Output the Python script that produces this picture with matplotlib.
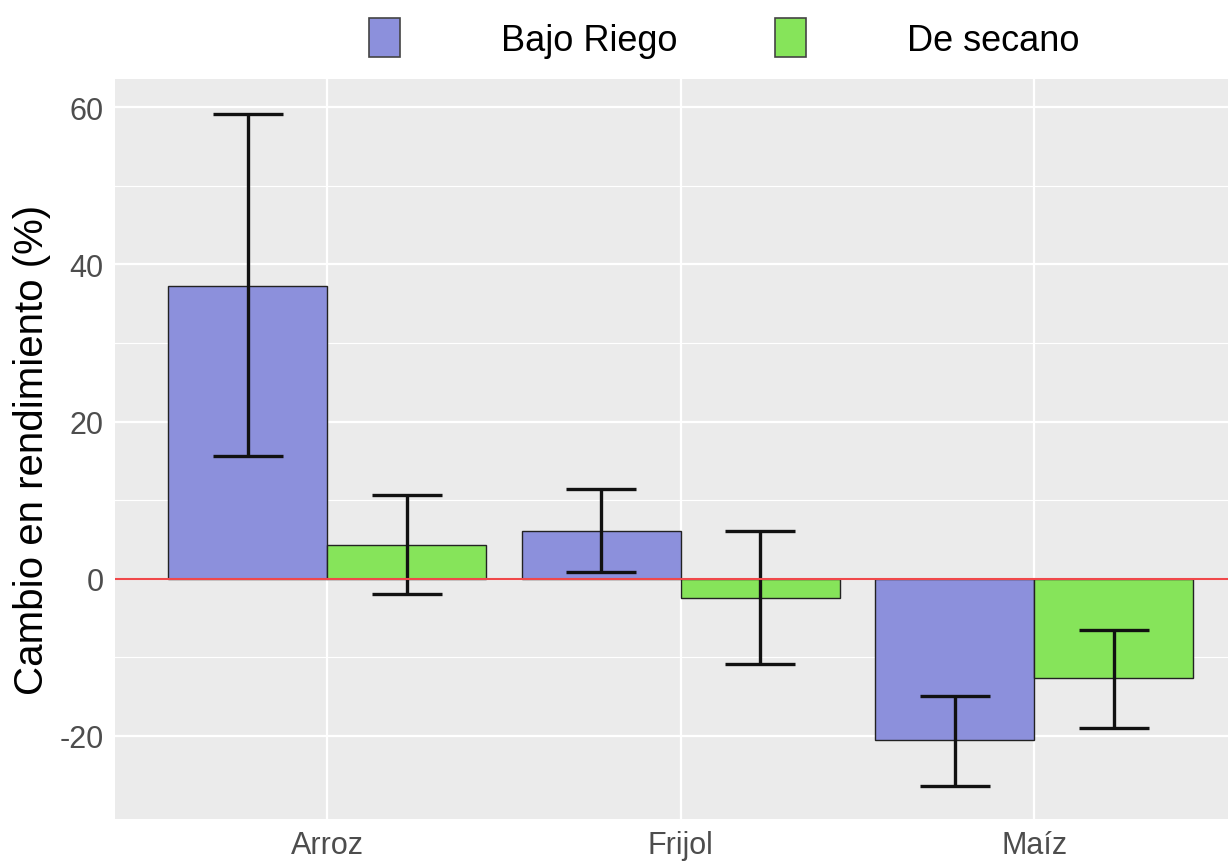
import matplotlib.pyplot as plt
import numpy as np
from matplotlib.patches import Patch

plt.rcParams["font.family"] = ["Liberation Sans", "DejaVu Sans"]
plt.rcParams["axes.unicode_minus"] = False

crops = ["Arroz", "Frijol", "Maíz"]
series = ["Bajo Riego", "De secano"]
colors = ["#8C90DC", "#86E45A"]

# mean change and error-bar ends
values = {
    "Bajo Riego": [37.3, 6.1, -20.6],
    "De secano": [4.3, -2.5, -12.7],
}
lower = {
    "Bajo Riego": [15.6, 0.8, -26.4],
    "De secano": [-2.0, -10.9, -19.0],
}
upper = {
    "Bajo Riego": [59.2, 11.4, -15.0],
    "De secano": [10.7, 6.0, -6.5],
}

fig = plt.figure(figsize=(12.28, 8.62), dpi=100)
ax = fig.add_axes([0.0936, 0.0487, 0.9064, 0.8585])
ax.set_facecolor("#EBEBEB")

x = np.arange(1, len(crops) + 1)
width = 0.45
for i, (name, color) in enumerate(zip(series, colors)):
    pos = x + (i - 0.5) * width
    vals = np.array(values[name])
    lo = np.array(lower[name])
    hi = np.array(upper[name])
    ax.bar(pos, vals, width=width, color=color, edgecolor="#222222", linewidth=1.0, zorder=3)
    ax.errorbar(pos, vals, yerr=[vals - lo, hi - vals], fmt="none", ecolor="#111111",
                elinewidth=2.4, capsize=25, capthick=2.4, zorder=4)

ax.axhline(0, color="#F0484A", linewidth=1.5, zorder=5)

ax.set_xlim(0.4, 3.548)
ax.set_ylim(-30.6, 63.6)
ax.set_xticks(x)
ax.set_xticklabels(crops)
ax.set_yticks([-20, 0, 20, 40, 60])
ax.set_yticks([-10, 10, 30, 50], minor=True)
ax.grid(True, which="major", color="white", linewidth=1.6, zorder=0)
ax.grid(True, which="minor", axis="y", color="white", linewidth=0.8, zorder=0)
ax.set_axisbelow(True)
ax.tick_params(axis="both", which="both", length=0, labelsize=22, labelcolor="#4D4D4D", pad=8)
for s in ax.spines.values():
    s.set_visible(False)
ax.set_ylabel("Cambio en rendimiento (%)", fontsize=29, labelpad=6)

handles = [Patch(facecolor=c, edgecolor="#444444", linewidth=1.2) for c in colors]
fig.legend(handles, series, loc="center", bbox_to_anchor=(0.59, 0.955), ncol=2, frameon=False,
           fontsize=26, handlelength=0.85, handleheight=1.3, handletextpad=2.8, columnspacing=2.7)

fig.savefig("out.png", dpi=100)
